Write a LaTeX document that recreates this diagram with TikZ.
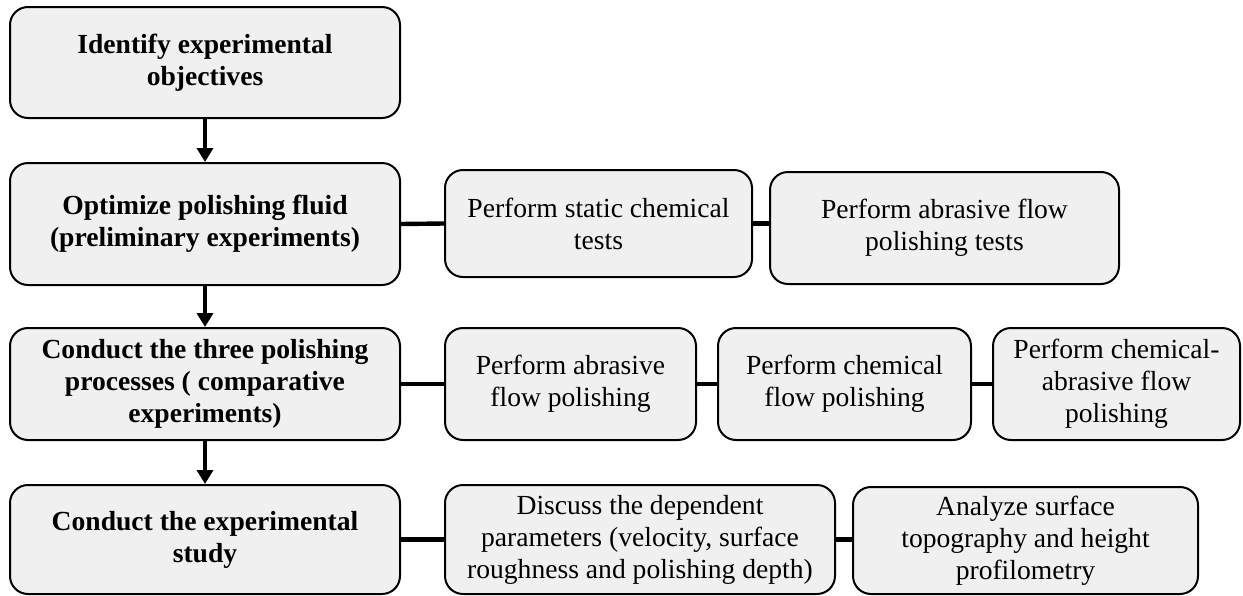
\documentclass[tikz,border=0pt]{standalone}
\usepackage{fontspec}
\setmainfont{Liberation Serif}
\usepackage{tikz}
\usetikzlibrary{arrows.meta,positioning}
\definecolor{boxfill}{HTML}{F0F0F0}
\tikzset{
  basebox/.style={draw,line width=1pt,rounded corners=9pt,fill=boxfill,align=center,inner sep=0pt,font=\fontsize{13.8}{16}\selectfont},
  mainbox/.style={basebox,font=\fontsize{13.8}{16}\selectfont\bfseries},
  subbox/.style={basebox},
  flow/.style={line width=2pt,-{Triangle[length=7pt,width=8pt]}},
  link/.style={line width=2.2pt}
}

\begin{document}
\begin{tikzpicture}[x=0.5pt,y=-0.5pt]
\useasboundingbox (0,0) rectangle (1243,595);
% main column
\node[mainbox,minimum width=195pt,minimum height=55.5pt] (obj) at (205,62.5) {Identify experimental\\objectives};
\node[mainbox,minimum width=195pt,minimum height=61pt] (fluid) at (205,224) {Optimize polishing fluid\\(preliminary experiments)};
\node[mainbox,minimum width=195pt,minimum height=56pt] (proc) at (205,384) {Conduct the three polishing\\processes ( comparative\\experiments)};
\node[mainbox,minimum width=195pt,minimum height=54.5pt] (study) at (205,539.5) {Conduct the experimental\\study};
\draw[flow] (obj) -- (fluid);
\draw[flow] (fluid) -- (proc);
\draw[flow] (proc) -- (study);
% preliminary tests
\node[subbox,minimum width=153.5pt,minimum height=53.5pt] (static) at (598.5,223.5) {Perform static chemical\\tests};
\node[subbox,minimum width=174.5pt,minimum height=56pt] (aftest) at (944.5,228) {Perform abrasive flow\\polishing tests};
\draw[link] (fluid.east) -- (static.west);
\draw[link] (static.east) -- (static.east -| aftest.west);
% comparative processes
\node[subbox,minimum width=125.5pt,minimum height=56pt] (afp) at (570.5,384) {Perform abrasive\\flow polishing};
\node[subbox,minimum width=126.5pt,minimum height=56pt] (cfp) at (844.5,384) {Perform chemical\\flow polishing};
\node[subbox,minimum width=123.5pt,minimum height=56pt] (cafp) at (1116.5,384) {Perform chemical-\\abrasive flow\\polishing};
\draw[link] (proc.east) -- (afp.west);
\draw[link] (afp.east) -- (cfp.west);
\draw[link] (cfp.east) -- (cafp.west);
% study
\node[subbox,minimum width=195pt,minimum height=54.5pt] (param) at (640,539.5) {Discuss the dependent\\parameters (velocity, surface\\roughness and polishing depth)};
\node[subbox,minimum width=172.5pt,minimum height=53.5pt] (topo) at (1025.5,540.5) {Analyze surface\\topography and height\\profilometry};
\draw[link] (study.east) -- (param.west);
\draw[link] (param.east) -- (param.east -| topo.west);
\end{tikzpicture}
\end{document}
